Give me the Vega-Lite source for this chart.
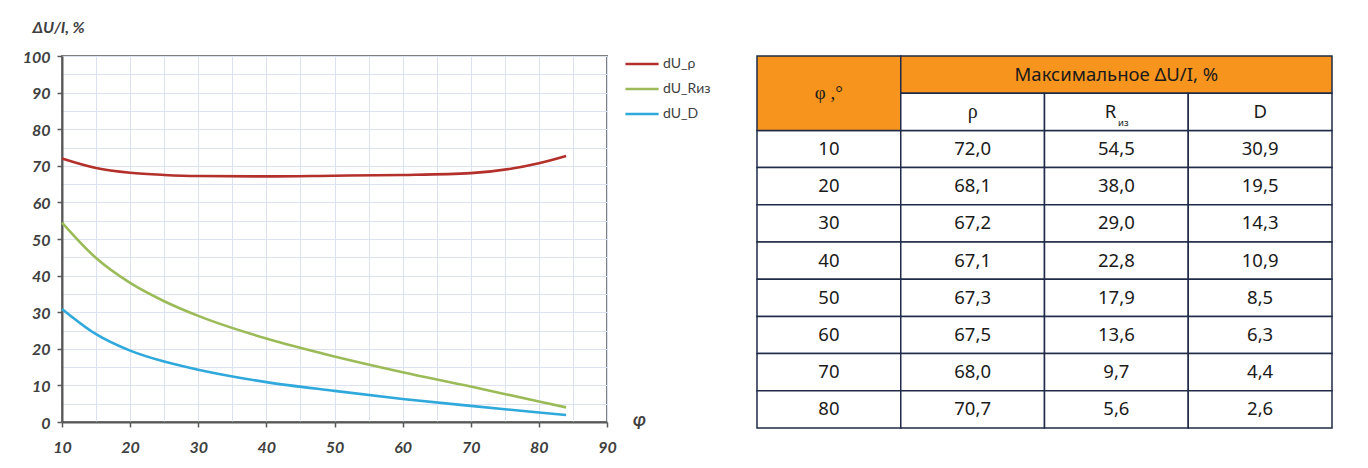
{
  "$schema": "https://vega.github.io/schema/vega-lite/v6.json",
  "background": "white",
  "padding": {"left": 21, "top": 18, "right": 5, "bottom": 5},
  "bounds": "flush",
  "spacing": 150,
  "config": {
    "locale": {"number": {"decimal": ",", "thousands": " ", "grouping": [3], "currency": ["", ""]}},
    "axis": {
      "domainColor": "#595959", "domainWidth": 2,
      "tickColor": "#595959", "tickWidth": 1.5, "tickSize": 5,
      "gridColor": "#dde3ee", "gridWidth": 1,
      "labelFont": "Lato", "labelFontStyle": "italic", "labelFontWeight": "bold", "labelFontSize": 16, "labelColor": "#404040",
      "labelOverlap": false, "labelFlush": false,
      "titleFont": "Lato", "titleFontStyle": "italic", "titleFontWeight": "bold", "titleColor": "#404040"
    }
  },
  "datasets": {
    "curve": [
      {"phi": 10, "series": "dU_ρ", "value": 72.0},
      {"phi": 15, "series": "dU_ρ", "value": 69.4},
      {"phi": 20, "series": "dU_ρ", "value": 68.1},
      {"phi": 25, "series": "dU_ρ", "value": 67.5},
      {"phi": 30, "series": "dU_ρ", "value": 67.2},
      {"phi": 40, "series": "dU_ρ", "value": 67.1},
      {"phi": 50, "series": "dU_ρ", "value": 67.3},
      {"phi": 60, "series": "dU_ρ", "value": 67.5},
      {"phi": 70, "series": "dU_ρ", "value": 68.0},
      {"phi": 80, "series": "dU_ρ", "value": 70.7},
      {"phi": 84, "series": "dU_ρ", "value": 72.7},
      {"phi": 10, "series": "dU_Rиз", "value": 54.5},
      {"phi": 15, "series": "dU_Rиз", "value": 44.8},
      {"phi": 20, "series": "dU_Rиз", "value": 38.0},
      {"phi": 25, "series": "dU_Rиз", "value": 33.0},
      {"phi": 30, "series": "dU_Rиз", "value": 29.0},
      {"phi": 40, "series": "dU_Rиз", "value": 22.8},
      {"phi": 50, "series": "dU_Rиз", "value": 17.9},
      {"phi": 60, "series": "dU_Rиз", "value": 13.6},
      {"phi": 70, "series": "dU_Rиз", "value": 9.7},
      {"phi": 80, "series": "dU_Rиз", "value": 5.6},
      {"phi": 84, "series": "dU_Rиз", "value": 4.0},
      {"phi": 10, "series": "dU_D", "value": 30.9},
      {"phi": 15, "series": "dU_D", "value": 24.0},
      {"phi": 20, "series": "dU_D", "value": 19.5},
      {"phi": 25, "series": "dU_D", "value": 16.5},
      {"phi": 30, "series": "dU_D", "value": 14.3},
      {"phi": 40, "series": "dU_D", "value": 10.9},
      {"phi": 50, "series": "dU_D", "value": 8.5},
      {"phi": 60, "series": "dU_D", "value": 6.3},
      {"phi": 70, "series": "dU_D", "value": 4.4},
      {"phi": 80, "series": "dU_D", "value": 2.6},
      {"phi": 84, "series": "dU_D", "value": 1.9}
    ],
    "table": [
      {"phi": 10, "rho": 72.0, "r": 54.5, "d": 30.9},
      {"phi": 20, "rho": 68.1, "r": 38.0, "d": 19.5},
      {"phi": 30, "rho": 67.2, "r": 29.0, "d": 14.3},
      {"phi": 40, "rho": 67.1, "r": 22.8, "d": 10.9},
      {"phi": 50, "rho": 67.3, "r": 17.9, "d": 8.5},
      {"phi": 60, "rho": 67.5, "r": 13.6, "d": 6.3},
      {"phi": 70, "rho": 68.0, "r": 9.7, "d": 4.4},
      {"phi": 80, "rho": 70.7, "r": 5.6, "d": 2.6}
    ],
    "sub": [
      {"col": "rho", "label": "ρ"},
      {"col": "r", "label": "R"},
      {"col": "d", "label": "D"}
    ]
  },
  "hconcat": [
    {
      "width": 545,
      "height": 366,
      "view": {"stroke": "#7f7f7f", "strokeWidth": 2},
      "data": {"name": "curve"},
      "mark": {"type": "line", "interpolate": "monotone", "strokeWidth": 2.6},
      "encoding": {
        "x": {
          "field": "phi", "type": "quantitative",
          "scale": {"domain": [10, 90], "nice": false, "zero": false},
          "axis": {
            "values": [10, 15, 20, 25, 30, 35, 40, 45, 50, 55, 60, 65, 70, 75, 80, 85, 90],
            "labelExpr": "datum.value % 10 === 0 ? datum.label : ''",
            "tickOpacity": {"condition": {"test": "datum.value % 10 === 0", "value": 1}, "value": 0},
            "labelPadding": 12,
            "title": "φ", "titleFontSize": 18, "titleX": 577, "titleY": -2,
            "titleAlign": "center", "titleBaseline": "middle"
          }
        },
        "y": {
          "field": "value", "type": "quantitative",
          "scale": {"domain": [0, 100], "nice": false},
          "axis": {
            "values": [0, 5, 10, 15, 20, 25, 30, 35, 40, 45, 50, 55, 60, 65, 70, 75, 80, 85, 90, 95, 100],
            "labelExpr": "datum.value % 10 === 0 ? datum.label : ''",
            "tickOpacity": {"condition": {"test": "datum.value % 10 === 0", "value": 1}, "value": 0},
            "labelPadding": 7, "labelOffset": 1,
            "title": "ΔU/I, %", "titleFontSize": 16, "titleAngle": 0,
            "titleX": -30, "titleY": -29, "titleAlign": "left", "titleBaseline": "middle"
          }
        },
        "color": {
          "field": "series", "type": "nominal",
          "scale": {"domain": ["dU_ρ", "dU_Rиз", "dU_D"], "range": ["#b3302b", "#9bbb59", "#2fa9dc"]},
          "legend": {
            "orient": "none", "legendX": 562, "legendY": -10, "title": null,
            "symbolType": "stroke", "symbolSize": 1100, "symbolStrokeWidth": 2.5,
            "labelFont": "Lato", "labelFontSize": 14, "labelColor": "#404040",
            "rowPadding": -3, "labelOffset": 3
          }
        }
      }
    },
    {
      "width": 575,
      "height": 372,
      "view": {"stroke": null},
      "layer": [
        {
          "data": {"name": "table"},
          "transform": [{"fold": ["phi", "rho", "r", "d"], "as": ["col", "value"]}],
          "mark": {"type": "rect", "fill": "#ffffff", "stroke": "#1f2b47", "strokeWidth": 1.5},
          "encoding": {
            "x": {"field": "col", "type": "nominal", "scale": {"type": "band", "domain": ["phi", "rho", "r", "d"], "paddingInner": 0, "paddingOuter": 0}, "axis": null},
            "y": {"field": "phi", "type": "nominal", "scale": {"type": "band", "domain": ["h1", "h2", 10, 20, 30, 40, 50, 60, 70, 80], "paddingInner": 0, "paddingOuter": 0}, "axis": null}
          }
        },
        {
          "data": {"values": [{"label": "φ,°"}]},
          "mark": {"type": "rect", "fill": "#f7941d", "stroke": "#1f2b47", "strokeWidth": 1.5},
          "encoding": {
            "x": {"datum": "phi", "type": "nominal"},
            "y": {"datum": "h1", "type": "nominal", "bandPosition": 0},
            "y2": {"datum": "h2", "bandPosition": 1}
          }
        },
        {
          "data": {"values": [{"label": "Максимальное ΔU/I, %"}]},
          "mark": {"type": "rect", "fill": "#f7941d", "stroke": "#1f2b47", "strokeWidth": 1.5},
          "encoding": {
            "x": {"datum": "rho", "type": "nominal", "bandPosition": 0},
            "x2": {"datum": "d", "bandPosition": 1},
            "y": {"datum": "h1", "type": "nominal"}
          }
        },
        {
          "data": {"name": "sub"},
          "mark": {"type": "rect", "fill": "#ffffff", "stroke": "#1f2b47", "strokeWidth": 1.5},
          "encoding": {
            "x": {"field": "col", "type": "nominal"},
            "y": {"datum": "h2", "type": "nominal"}
          }
        },
        {
          "data": {"values": [{"label": "φ ,°"}]},
          "mark": {"type": "text", "font": "Liberation Serif", "fontSize": 19, "color": "#1a1a1a"},
          "encoding": {
            "x": {"datum": "phi", "type": "nominal"},
            "y": {"datum": "h1", "type": "nominal", "bandPosition": 1},
            "text": {"field": "label"}
          }
        },
        {
          "data": {"values": [{"label": "Максимальное ΔU/I, %"}]},
          "mark": {"type": "text", "font": "Noto Sans", "fontSize": 18.5, "color": "#1a1a1a"},
          "encoding": {
            "x": {"datum": "r", "type": "nominal"},
            "y": {"datum": "h1", "type": "nominal"},
            "text": {"field": "label"}
          }
        },
        {
          "data": {"name": "sub"},
          "transform": [{"filter": "datum.col === 'rho'"}],
          "mark": {"type": "text", "font": "Liberation Serif", "fontSize": 20, "color": "#1a1a1a"},
          "encoding": {
            "x": {"field": "col", "type": "nominal"},
            "y": {"datum": "h2", "type": "nominal"},
            "text": {"field": "label"}
          }
        },
        {
          "data": {"name": "sub"},
          "transform": [{"filter": "datum.col === 'd'"}],
          "mark": {"type": "text", "font": "Noto Sans", "fontSize": 18.5, "color": "#1a1a1a"},
          "encoding": {
            "x": {"field": "col", "type": "nominal"},
            "y": {"datum": "h2", "type": "nominal"},
            "text": {"field": "label"}
          }
        },
        {
          "data": {"name": "sub"},
          "transform": [{"filter": "datum.col === 'r'"}],
          "mark": {"type": "text", "font": "Noto Sans", "fontSize": 18.5, "color": "#1a1a1a", "dx": -6},
          "encoding": {
            "x": {"field": "col", "type": "nominal"},
            "y": {"datum": "h2", "type": "nominal"},
            "text": {"field": "label"}
          }
        },
        {
          "data": {"name": "sub"},
          "transform": [{"filter": "datum.col === 'r'"}],
          "mark": {"type": "text", "font": "Noto Sans", "fontSize": 9.5, "color": "#1a1a1a", "dx": 7, "dy": 11, "text": "из"},
          "encoding": {
            "x": {"field": "col", "type": "nominal"},
            "y": {"datum": "h2", "type": "nominal"}
          }
        },
        {
          "data": {"name": "table"},
          "transform": [{"fold": ["rho", "r", "d"], "as": ["col", "value"]}],
          "mark": {"type": "text", "font": "Noto Sans", "fontSize": 18.5, "color": "#1a1a1a"},
          "encoding": {
            "x": {"field": "col", "type": "nominal"},
            "y": {"field": "phi", "type": "nominal"},
            "text": {"field": "value", "type": "quantitative", "format": ".1f"}
          }
        },
        {
          "data": {"name": "table"},
          "mark": {"type": "text", "font": "Noto Sans", "fontSize": 18.5, "color": "#1a1a1a"},
          "encoding": {
            "x": {"datum": "phi", "type": "nominal"},
            "y": {"field": "phi", "type": "nominal"},
            "text": {"field": "phi", "type": "quantitative", "format": "d"}
          }
        }
      ]
    }
  ]
}
